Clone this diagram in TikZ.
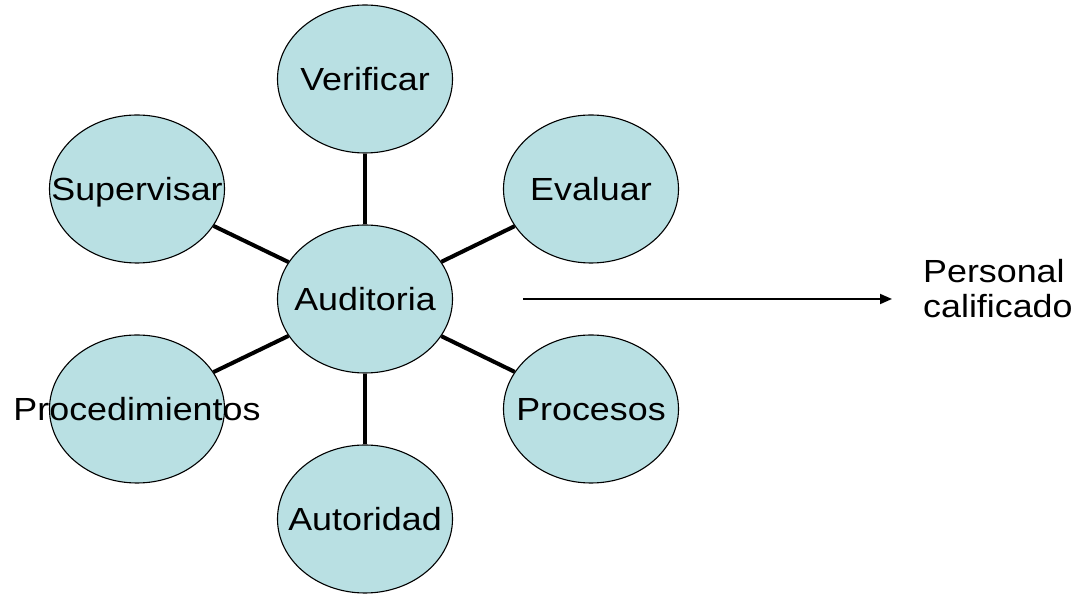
\documentclass[tikz,border=0pt]{standalone}
\usepackage{fontspec}
\newfontfamily\lab[FakeStretch=1.12]{Liberation Sans}
\usetikzlibrary{shapes.geometric,arrows.meta}
\definecolor{bubble}{RGB}{185,224,227}
\tikzset{
  bub/.style={ellipse, draw=black, line width=1.1pt, fill=bubble,
    minimum width=175pt, minimum height=148pt, inner sep=0pt},
  txt/.style={font=\lab\fontsize{32}{35}\selectfont, inner sep=0pt},
  ctxt/.style={txt, anchor=base, yshift=-11.5pt},
  spoke/.style={line width=4pt, draw=black},
  arr/.style={line width=1.8pt, -{Triangle[length=12pt,width=10pt]}}
}
\begin{document}
\begin{tikzpicture}[x=1pt,y=1pt]
\useasboundingbox (0,0) rectangle (1088,594);
\node[bub] (aud) at (365,295) {};
\node[bub] (ver) at (365,515) {};
\node[bub] (aut) at (365,75) {};
\node[bub] (sup) at (137,405) {};
\node[bub] (pcd) at (137,185) {};
\node[bub] (eva) at (591,405) {};
\node[bub] (pro) at (591,185) {};
\draw[spoke] (aud) -- (ver);
\draw[spoke] (aud) -- (aut);
\draw[spoke] (aud) -- (sup);
\draw[spoke] (aud) -- (pcd);
\draw[spoke] (aud) -- (eva);
\draw[spoke] (aud) -- (pro);
\node[ctxt] (taud) at (aud.center) {Auditoria};
\node[ctxt] (tver) at (ver.center) {Verificar};
\node[ctxt] (taut) at (aut.center) {Autoridad};
\node[ctxt] (tsup) at (sup.center) {Supervisar};
\node[ctxt] (tpcd) at (pcd.center) {Procedimientos};
\node[ctxt] (teva) at (eva.center) {Evaluar};
\node[ctxt] (tpro) at (pro.center) {Procesos};
\coordinate (a1) at (523,295);
\coordinate (a2) at (892,295);
\draw[arr] (a1) -- (a2);
\node[txt, align=left, anchor=base west] (pers) at (923,276) {Personal\\calificado};
\end{tikzpicture}
\end{document}
